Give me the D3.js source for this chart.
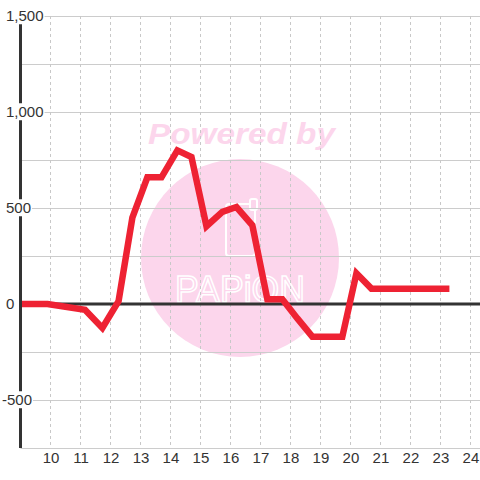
<!DOCTYPE html>
<html>
<head>
<meta charset="utf-8">
<script src="https://cdn.jsdelivr.net/npm/d3@7"></script>
<style>
  html, body { margin: 0; padding: 0; background: #fff; }
  text { font-family: "Liberation Sans", Arial, sans-serif; }
</style>
</head>
<body>
<div id="chart"></div>
<script>
// hour of day (decimal) and value
var hours = [9, 9.9, 11.15, 11.73, 12.27, 12.73, 13.23, 13.7, 14.23, 14.7, 15.2, 15.73, 16.2, 16.73, 17.23, 17.73, 18.23, 18.73, 19.73, 20.2, 20.7, 23.3];
var values = [0, 0, -30, -125, 15, 450, 660, 660, 800, 765, 405, 480, 505, 410, 25, 25, -75, -170, -170, 160, 80, 80];

var xTicks = [10, 11, 12, 13, 14, 15, 16, 17, 18, 19, 20, 21, 22, 23, 24];
var yTicks = [-500, 0, 500, 1000, 1500];
var yGrid = [-750, -500, -250, 0, 250, 500, 750, 1000, 1250, 1500];

var data = hours.map(function(h, i) { return {h: h, v: values[i]}; });

var width = 480, height = 480;

var svg = d3.select("#chart")
  .append("svg")
    .attr("width", width)
    .attr("height", height);

var x = d3.scaleLinear()
    .domain([9, 24.32])
    .range([20.5, 480]);

var y = d3.scaleLinear()
    .domain([-750, 1500])
    .range([448, 16]);

// watermark behind everything
var wm = svg.append("g");
wm.append("circle")
    .attr("cx", 240)
    .attr("cy", 258)
    .attr("r", 99)
    .attr("fill", "#fcd6ec");
wm.append("text")
    .attr("x", 148)
    .attr("y", 144)
    .attr("textLength", 187)
    .attr("lengthAdjust", "spacingAndGlyphs")
    .attr("font-size", "30px")
    .attr("font-weight", "bold")
    .attr("font-style", "italic")
    .attr("font-family", "DejaVu Sans")
    .attr("fill", "#fcd6ec")
    .text("Powered by");
wm.append("rect")
    .attr("x", 226).attr("y", 204)
    .attr("width", 29).attr("height", 52)
    .attr("rx", 3)
    .attr("fill", "none")
    .attr("stroke", "#fff")
    .attr("stroke-width", 2);
wm.append("rect")
    .attr("x", 250).attr("y", 199)
    .attr("width", 7).attr("height", 11)
    .attr("rx", 2)
    .attr("fill", "#fcd6ec")
    .attr("stroke", "#fff")
    .attr("stroke-width", 2);
wm.append("text")
    .attr("x", 175)
    .attr("y", 302)
    .attr("textLength", 130)
    .attr("lengthAdjust", "spacingAndGlyphs")
    .attr("font-size", "36px")
    .attr("font-family", "DejaVu Sans Mono")
    .attr("fill", "none")
    .attr("stroke", "#fff")
    .attr("stroke-width", 1.5)
    .text("PAPiON");

// horizontal grid
svg.append("g")
  .selectAll("line")
  .data(yGrid)
  .enter()
  .append("line")
    .attr("x1", 20.5)
    .attr("x2", width)
    .attr("y1", function(d) { return y(d) + 0.5; })
    .attr("y2", function(d) { return y(d) + 0.5; })
    .attr("stroke", "#cccccc")
    .attr("stroke-width", 1);

// vertical dashed grid
svg.append("g")
  .selectAll("line")
  .data(xTicks)
  .enter()
  .append("line")
    .attr("x1", function(d) { return Math.round(x(d)) + 0.5; })
    .attr("x2", function(d) { return Math.round(x(d)) + 0.5; })
    .attr("y1", y(1500))
    .attr("y2", y(-750))
    .attr("stroke", "#c8c8c8")
    .attr("stroke-width", 1)
    .attr("stroke-dasharray", "3,3");

// zero line
svg.append("line")
    .attr("x1", 20.5)
    .attr("x2", width)
    .attr("y1", y(0))
    .attr("y2", y(0))
    .attr("stroke", "#333")
    .attr("stroke-width", 3);

// the series
var line = d3.line()
    .x(function(d) { return x(d.h); })
    .y(function(d) { return y(d.v); });

svg.append("path")
    .datum(data)
    .attr("d", line)
    .attr("fill", "none")
    .attr("stroke", "#ee2233")
    .attr("stroke-width", 6.5)
    .attr("stroke-linejoin", "miter");

// y axis line
svg.append("line")
    .attr("x1", 20.5)
    .attr("x2", 20.5)
    .attr("y1", y(1500))
    .attr("y2", y(-750))
    .attr("stroke", "#333")
    .attr("stroke-width", 3);

// y labels with white background over axis
var fmt = d3.format(",");
var yLab = svg.append("g")
  .selectAll("g")
  .data(yTicks)
  .enter()
  .append("g")
    .attr("transform", function(d) { return "translate(0," + y(d) + ")"; });

yLab.append("text")
    .attr("x", function(d) { return d < 0 ? 2 : 6; })
    .attr("dy", "0.35em")
    .attr("font-size", "15px")
    .attr("fill", "#333")
    .text(function(d) { return fmt(d).replace("−", "-"); })
    .each(function() {
        var b = this.getBBox();
        d3.select(this.parentNode).insert("rect", "text")
            .attr("x", b.x - 1)
            .attr("y", b.y)
            .attr("width", b.width + 2)
            .attr("height", b.height)
            .attr("fill", "#fff");
    });

// x labels
var xAxis = svg.append("g")
    .attr("transform", "translate(0," + 452 + ")")
    .call(d3.axisBottom(x).tickValues(xTicks).tickSize(0).tickPadding(0).tickFormat(d3.format("d")));
xAxis.select(".domain").remove();
xAxis.selectAll("text")
    .attr("dy", "0.71em")
    .attr("font-size", "15px")
    .attr("font-family", "Liberation Sans, Arial, sans-serif")
    .attr("fill", "#333");
</script>
</body>
</html>
